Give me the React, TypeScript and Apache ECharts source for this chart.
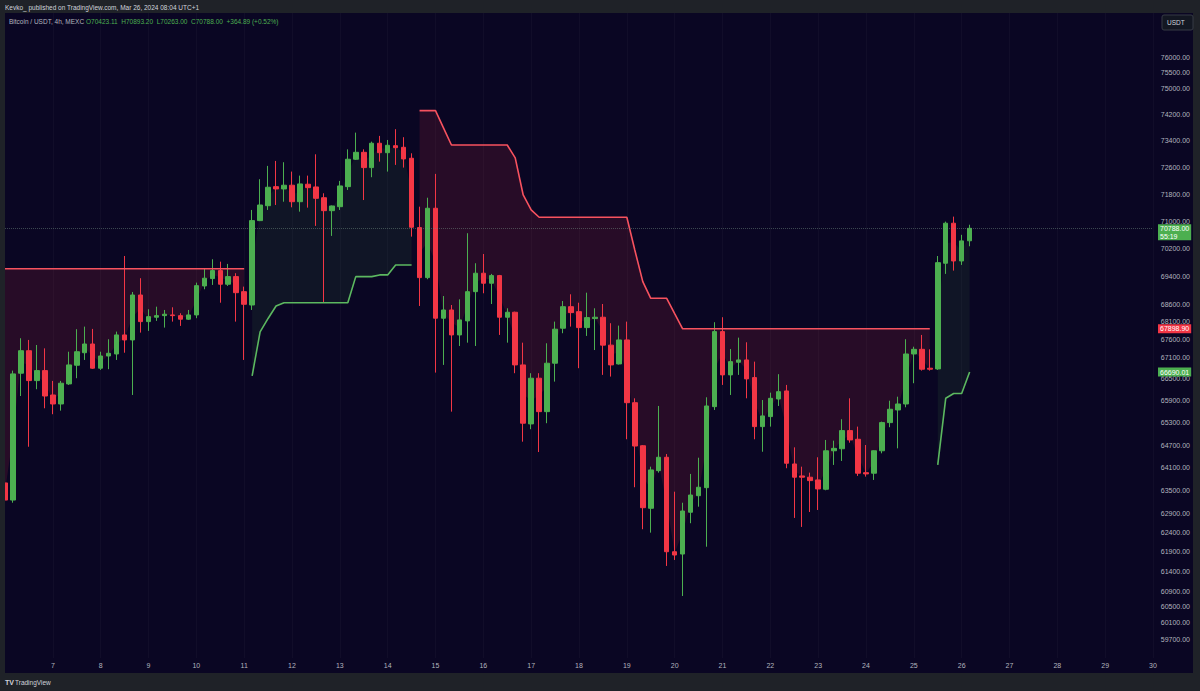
import React, { useEffect, useRef } from "react";
import * as echarts from "echarts";

const days = [6, 7, 8, 9, 10, 11, 12, 13, 14, 15, 16, 17, 18, 19, 20, 21, 22, 23, 24, 25, 26, 27, 28, 29, 30];
const barHours = ["01:00", "05:00", "09:00", "13:00", "17:00", "21:00"];

const priceTicks = [76000, 75500, 75000, 74200, 73400, 72600, 71800, 71000, 70200, 69400, 68600, 68100, 67600, 67100, 66500, 65900, 65300, 64700, 64100, 63500, 62900, 62400, 61900, 61400, 60900, 60500, 60100, 59700];

// [open, close, low, high]
const ohlc = [
  [63694, 63243, 63165, 63773], [63243, 66640, 63173, 66731], [66659, 67284, 66032, 67633], [67284, 66455, 64657, 67585],
  [66455, 66731, 66218, 67444], [66731, 66032, 65697, 67350], [66060, 65814, 65535, 66447], [65814, 66383, 65632, 66447],
  [66364, 66889, 66336, 67256], [66880, 67256, 66521, 67887], [67228, 67472, 67027, 67960], [67472, 66798, 66778, 67895],
  [66798, 67137, 66751, 67256], [67137, 67212, 66770, 67605], [67193, 67726, 67027, 67819], [67726, 67585, 67228, 69980],
  [67585, 68857, 66060, 68943], [68857, 68101, 67791, 69338], [68101, 68242, 67839, 68451], [68225, 68270, 68121, 68524],
  [68270, 68310, 67932, 68431], [68290, 68270, 68101, 68507], [68270, 68169, 67980, 68338], [68169, 68290, 68149, 68431],
  [68290, 69125, 68197, 69211], [69116, 69338, 69021, 69626], [69327, 69557, 69145, 69885], [69557, 69165, 68637, 69816],
  [69165, 69384, 69116, 69750], [69384, 68923, 68101, 69482], [68952, 68592, 67027, 69096], [68572, 71014, 68431, 71329],
  [71014, 71476, 71000, 72244], [71455, 72004, 71329, 72644], [72022, 71953, 71476, 72794], [71953, 72064, 71573, 72755],
  [72064, 71573, 71408, 72473], [71573, 72103, 71279, 72352], [72094, 71992, 71397, 72352], [72013, 71674, 70859, 72995],
  [71692, 71308, 68637, 71824], [71308, 71447, 70565, 71460], [71426, 72043, 71329, 72193], [72022, 72845, 71923, 73145],
  [72845, 73055, 72824, 73654], [73055, 72593, 71623, 73145], [72593, 73330, 72304, 73379], [73330, 73043, 72773, 73553],
  [73043, 73268, 72473, 73430], [73256, 73195, 72674, 73759], [73207, 72854, 72593, 73514], [72875, 70820, 70544, 73025],
  [70809, 69355, 68544, 71426], [69355, 71379, 69309, 71692], [71379, 68197, 66676, 72404], [68197, 68431, 66889, 68827],
  [68431, 67726, 65605, 68572], [67726, 68149, 67416, 68733], [68121, 68952, 67509, 70644], [68952, 69482, 67416, 69770],
  [69482, 69194, 68906, 70038], [69194, 69413, 68600, 69462], [69413, 68225, 67726, 69433], [68225, 68366, 67509, 68479],
  [68366, 66889, 66659, 68383], [66889, 65291, 64793, 67509], [65272, 66521, 65129, 66659], [66521, 65605, 64515, 66659],
  [65605, 66936, 65291, 67492], [66936, 67887, 66427, 68101], [67915, 68524, 67774, 68685], [68524, 68355, 67960, 68877],
  [68383, 67932, 66798, 68637], [67932, 68214, 67698, 68923], [68186, 68225, 67303, 68479], [68225, 67440, 66613, 68600],
  [67440, 66889, 66566, 68056], [66916, 67585, 66900, 67988], [67585, 65849, 64858, 68101], [65849, 64676, 63580, 65969],
  [64684, 63043, 62482, 64703], [63028, 64038, 62394, 64125], [64019, 64375, 63966, 65760], [64375, 61902, 61538, 64462],
  [61902, 61818, 61691, 63463], [61843, 62957, 60776, 63173], [62924, 63375, 62638, 63932], [63357, 63580, 63069, 64364],
  [63569, 65760, 62031, 65997], [65741, 67819, 65651, 68084], [67819, 66613, 66336, 68225], [66613, 66980, 66060, 67331],
  [66963, 67027, 66613, 67650], [67027, 66502, 65969, 67520], [66538, 65199, 64858, 66980], [65199, 65489, 64523, 65922],
  [65470, 65969, 65199, 66124], [65950, 66151, 65760, 66632], [66171, 64216, 64083, 66336], [64197, 63845, 62776, 64641],
  [63879, 63845, 62542, 64125], [63845, 63755, 62931, 63966], [63773, 63535, 62983, 64375], [63527, 64549, 63500, 64839],
  [64549, 64614, 64171, 64820], [64603, 65091, 64277, 65399], [65091, 64839, 64766, 65969], [64858, 63951, 63879, 65199],
  [63966, 63932, 63861, 64703], [63951, 64549, 63773, 64560], [64549, 65307, 64481, 65334], [65307, 65670, 65183, 65903],
  [65651, 65814, 64614, 66013], [65814, 67193, 65724, 67605], [67193, 67323, 66383, 67396], [67323, 66770, 66731, 67726],
  [66798, 66770, 66731, 67323], [66778, 69787, 66750, 69980], [69770, 70938, 69462, 70985], [70938, 69836, 69557, 71132],
  [69836, 70420, 69721, 70597], [70423.11, 70788.0, 70263.0, 70893.2],
];

// Supertrend (down-trend line, above price)
const stDown = [
  69610, 69610, 69610, 69610, 69610, 69610, 69610, 69610, 69610, 69610, 69610, 69610, 69610, 69610, 69610, 69610,
  69610, 69610, 69610, 69610, 69610, 69610, 69610, 69610, 69610, 69610, 69610, 69610, 69610, 69610, 69610,
  null, null, null, null, null, null, null, null, null, null, null, null, null, null, null, null, null, null, null, null, null,
  74329, 74329, 74329, 73798, 73277, 73277, 73277, 73277, 73277, 73277, 73277, 73277, 72884, 71773, 71329,
  71114, 71114, 71114, 71114, 71114, 71114, 71114, 71114, 71114, 71114, 71114, 71114, 70153, 69240, 68762, 68762, 68762, 68324,
  67898.9, 67898.9, 67898.9, 67898.9, 67898.9, 67898.9, 67898.9, 67898.9, 67898.9, 67898.9, 67898.9, 67898.9, 67898.9, 67898.9, 67898.9, 67898.9,
  67898.9, 67898.9, 67898.9, 67898.9, 67898.9, 67898.9, 67898.9, 67898.9, 67898.9, 67898.9, 67898.9, 67898.9, 67898.9, 67898.9, 67898.9, 67898.9,
  null, null, null, null, null,
];

// Supertrend (up-trend line, below price)
const stUp = [
  null, null, null, null, null, null, null, null, null, null, null, null, null, null, null, null,
  null, null, null, null, null, null, null, null, null, null, null, null, null, null, null,
  66585, 67811, 68190, 68544, 68637, 68637, 68637, 68637, 68637, 68637, 68637, 68637, 68637,
  69384, 69384, 69384, 69433, 69433, 69721, 69721, 69721,
  null, null, null, null, null, null, null, null, null, null, null, null, null, null, null, null, null, null, null, null,
  null, null, null, null, null, null, null, null, null, null, null, null, null, null, null, null, null, null, null, null,
  null, null, null, null, null, null, null, null, null, null, null, null, null, null, null, null, null, null, null, null,
  null, null, null, null, null,
  64171, 65969, 66101, 66101, 66690.01,
];

const lastPrice = 70788.0;
const countdown = "55:19";
const lastDown = 67898.9;
const lastUp = 66690.01;
const headerText = "Kevko_ published on TradingView.com, Mar 26, 2024 08:04 UTC+1";
const symbolText = "Bitcoin / USDT, 4h, MEXC";
const ohlcText = "O70423.11  H70893.20  L70263.00  C70788.00  +364.89 (+0.52%)";

const UP = "#4caf50";
const DOWN = "#f23645";
const FONT = "Liberation Sans, Arial, sans-serif";
const FRAME = "#1f2228";
const PANE = "#0a0623";

export default function App() {
  const ref = useRef<HTMLDivElement>(null);

  useEffect(() => {
    const chart = echarts.init(ref.current!, undefined, { renderer: "svg" });

    const categories: string[] = [];
    days.forEach((d) => barHours.forEach((h) => categories.push(`Mar ${d} ${h}`)));
    categories.length = 145;

    const mids = ohlc.map((c) => (c[0] + c[1]) / 2);
    const dnBase = stDown.map((v, i) => (v == null ? "-" : mids[i]));
    const dnDiff = stDown.map((v, i) => (v == null ? "-" : Math.max(0, v - mids[i])));
    const upBase = stUp.map((v) => (v == null ? "-" : v));
    const upDiff = stUp.map((v, i) => (v == null ? "-" : Math.max(0, mids[i] - v)));

    const dayInterval = (index: number) => index > 0 && index % 6 === 0;

    const boxLabel = (value: number, bg: string) => ({
      show: true,
      position: "end",
      distance: 5,
      formatter: value.toFixed(2),
      color: "#ffffff",
      fontSize: 7,
      lineHeight: 8,
      fontFamily: FONT,
      backgroundColor: bg,
      padding: [1, 2, 0, 2],
    });

    chart.setOption({
      animation: false,
      backgroundColor: PANE,
      grid: { left: 5, right: 47, top: 13, bottom: 33 },
      xAxis: {
        type: "category",
        data: categories,
        boundaryGap: false,
        axisLine: { show: false },
        axisTick: { show: false },
        splitLine: { show: true, interval: dayInterval, lineStyle: { color: "rgba(255,255,255,0.03)", width: 1 } },
        axisLabel: {
          interval: dayInterval,
          formatter: (v: string) => v.split(" ")[1],
          color: "#b2b5be",
          fontSize: 7,
          fontFamily: FONT,
          margin: 4,
        },
      },
      yAxis: {
        type: "log",
        logBase: 10,
        position: "right",
        min: 59233,
        max: 77400,
        axisLine: { show: false },
        axisTick: { show: false },
        splitLine: { show: false },
        axisLabel: {
          customValues: priceTicks,
          formatter: (v: number) => Number(v).toFixed(2),
          color: "#b2b5be",
          fontSize: 7,
          fontFamily: FONT,
          align: "right",
          margin: 37,
        },
      },
      series: [
        {
          type: "line", stack: "dn", data: dnBase, symbol: "none", silent: true,
          lineStyle: { opacity: 0 }, z: 1,
        },
        {
          type: "line", stack: "dn", data: dnDiff, symbol: "none", silent: true,
          lineStyle: { opacity: 0 }, areaStyle: { color: "rgba(242,54,69,0.13)", opacity: 1 }, z: 1,
        },
        {
          type: "line", stack: "up", data: upBase, symbol: "none", silent: true,
          lineStyle: { opacity: 0 }, z: 1,
        },
        {
          type: "line", stack: "up", data: upDiff, symbol: "none", silent: true,
          lineStyle: { opacity: 0 }, areaStyle: { color: "rgba(76,175,80,0.09)", opacity: 1 }, z: 1,
        },
        {
          type: "line",
          data: stDown,
          symbol: "none",
          silent: true,
          connectNulls: false,
          lineStyle: { color: "#f7525f", width: 1.6 },
          z: 4,
        },
        {
          type: "line",
          data: stUp,
          symbol: "none",
          silent: true,
          connectNulls: false,
          lineStyle: { color: "#5cb860", width: 1.6 },
          z: 4,
        },
        {
          type: "candlestick",
          data: ohlc,
          barWidth: 5,
          silent: true,
          z: 3,
          itemStyle: { color: UP, color0: DOWN, borderColor: UP, borderColor0: DOWN, borderWidth: 1 },
          markLine: {
            silent: true,
            symbol: ["none", "none"],
            z: 10,
            data: [
              {
                yAxis: lastDown,
                lineStyle: { color: "rgba(0,0,0,0)", width: 0 },
                label: boxLabel(lastDown, DOWN),
              },
              {
                yAxis: lastUp,
                lineStyle: { color: "rgba(0,0,0,0)", width: 0 },
                label: boxLabel(lastUp, UP),
              },
              {
                yAxis: lastPrice,
                lineStyle: { color: "rgba(120,150,135,0.45)", type: "dotted", width: 1 },
                label: {
                  show: true,
                  position: "end",
                  distance: 5,
                  offset: [0, 4],
                  formatter: `{p|${lastPrice.toFixed(2)}}\n{t|${countdown}}`,
                  backgroundColor: UP,
                  padding: [0, 2, 0, 2],
                  rich: {
                    p: { color: "#ffffff", fontSize: 7, lineHeight: 8, fontFamily: FONT },
                    t: { color: "#ffffff", fontSize: 7, lineHeight: 8, fontFamily: FONT },
                  },
                },
              },
            ],
          },
        },
      ],
      graphic: [
        { type: "rect", shape: { x: 0, y: 0, width: 1200, height: 13 }, style: { fill: FRAME }, z: 10 },
        { type: "rect", shape: { x: 0, y: 673, width: 1200, height: 18 }, style: { fill: FRAME }, z: 10 },
        { type: "rect", shape: { x: 0, y: 0, width: 5, height: 691 }, style: { fill: FRAME }, z: 10 },
        { type: "rect", shape: { x: 1193, y: 0, width: 7, height: 691 }, style: { fill: FRAME }, z: 10 },
        {
          type: "text", x: 5, y: 7, z: 11,
          style: { text: headerText, fill: "#d1d4dc", font: `6.5px ${FONT}`, verticalAlign: "middle" },
        },
        {
          type: "text", x: 9, y: 21, z: 11,
          style: { text: symbolText, fill: "#b2b5be", font: `6.5px ${FONT}`, verticalAlign: "middle" },
        },
        {
          type: "text", x: 86, y: 21, z: 11,
          style: { text: ohlcText, fill: UP, font: `6.5px ${FONT}`, verticalAlign: "middle" },
        },
        {
          type: "rect", z: 11,
          shape: { x: 1162, y: 15, width: 31, height: 15, r: 2 },
          style: { fill: "#131722", stroke: "#363a45", lineWidth: 1 },
        },
        {
          type: "text", x: 1167, y: 22.5, z: 12,
          style: { text: "USDT", fill: "#d1d4dc", font: `6.5px ${FONT}`, verticalAlign: "middle" },
        },
        {
          type: "text", x: 5, y: 682, z: 11,
          style: { text: "TV", fill: "#d1d4dc", font: `bold 7px ${FONT}`, verticalAlign: "middle" },
        },
        {
          type: "text", x: 15, y: 682, z: 11,
          style: { text: "TradingView", fill: "#d1d4dc", font: `6.5px ${FONT}`, verticalAlign: "middle" },
        },
      ],
    });

    return () => chart.dispose();
  }, []);

  return (
    <div
      ref={ref}
      style={{ position: "fixed", left: 0, top: 0, width: 1200, height: 691, background: FRAME }}
    />
  );
}
